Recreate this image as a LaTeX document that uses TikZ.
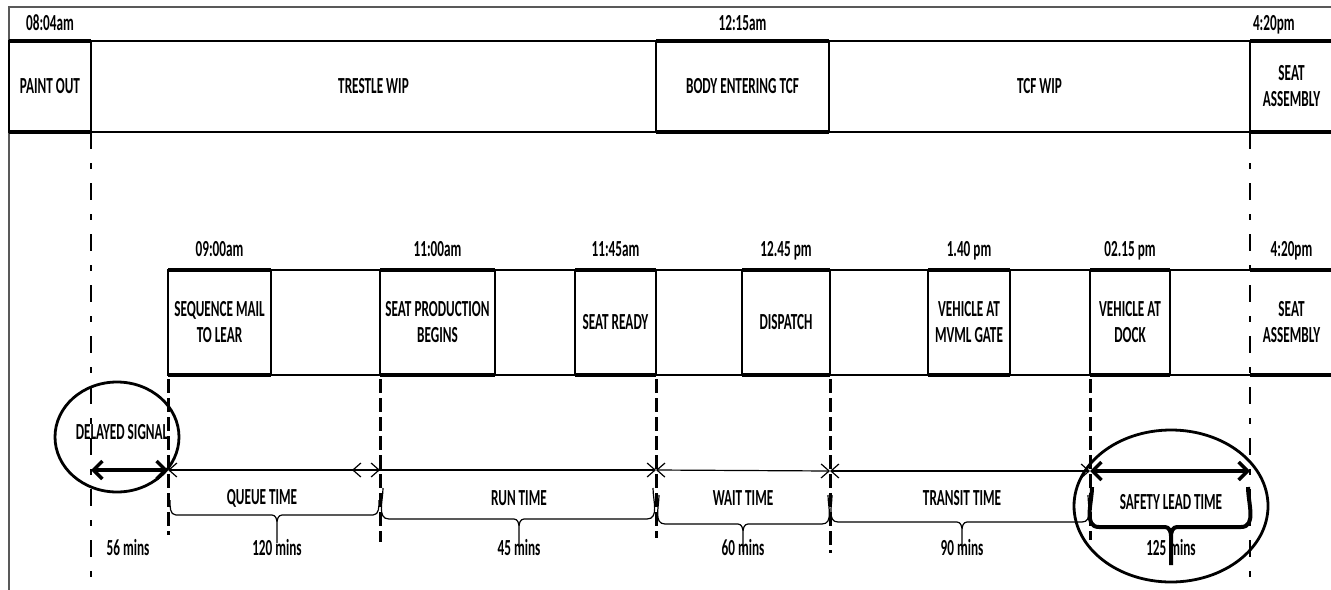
\documentclass[tikz,border=0pt]{standalone}
\usepackage{fontspec}
\setmainfont{Carlito}[FakeStretch=0.575]
\usetikzlibrary{positioning, arrows.meta}

\begin{document}
\begin{tikzpicture}[
    x=0.5pt, y=-0.5pt,
    every node/.style={font=\bfseries\fontsize{11.5}{13}\selectfont, inner sep=0pt, outer sep=0pt},
    cell/.style={draw, line width=1pt, align=center},
    blank/.style={align=center},
    toprow/.style={minimum height=45.5pt},
    botrow/.style={minimum height=52.5pt},
    heavy/.style={line width=1.75pt},
    stamp/.style={text depth=0pt},
    guide/.style={line width=1.5pt, dash pattern=on 7pt off 2.5pt},
    tickline/.style={line width=1.4pt, dash pattern=on 8.5pt off 7pt on 3pt off 7pt},
    spanarrow/.style={line width=0.6pt, {Straight Barb[length=4pt, width=7pt]}-{Straight Barb[length=4pt, width=7pt]}},
    bigspan/.style={line width=1.75pt, {Straight Barb[length=4.5pt, width=9pt]}-{Straight Barb[length=4.5pt, width=9pt]}},
    ring/.style={line width=1.4pt},
    bracket/.style={line width=0.6pt}
]
    \path[use as bounding box] (0,0) rectangle (1331,589);
    \clip (0,0) rectangle (1331,589);
    \draw[line width=0.8pt, gray!70!black] (9,595) -- (9,7) -- (1340,7);

    % Vehicle row
    \node[cell, toprow, minimum width=41pt, anchor=north west] (paint) at (9,41) {PAINT OUT};
    \node[cell, toprow, minimum width=282.5pt, right=0pt of paint] (trestle) {TRESTLE WIP};
    \node[cell, toprow, minimum width=86.5pt, right=0pt of trestle] (bodytcf) {BODY ENTERING TCF};
    \node[cell, toprow, minimum width=210.5pt, right=0pt of bodytcf] (tcfwip) {TCF WIP};
    \node[cell, toprow, minimum width=41.5pt, right=0pt of tcfwip] (seatA) {SEAT\\ASSEMBLY};
    \foreach \c in {paint, bodytcf, seatA}
        \draw[heavy] (\c.north west) -- (\c.north east) (\c.south west) -- (\c.south east);

    \node[stamp, above=5pt of paint] (t0804) {08:04am};
    \node[stamp, above=5pt of bodytcf] (t1215) {12:15am};
    \node[stamp, above right=5pt and 1.5pt of seatA.north west] (t0420a) {4:20pm};

    % Seat supply row
    \node[cell, botrow, minimum width=51.5pt, anchor=north west] (seqmail) at (168,270) {SEQUENCE MAIL\\TO LEAR};
    \node[blank, botrow, minimum width=54.5pt, right=0pt of seqmail] (g1) {};
    \node[cell, botrow, minimum width=57.5pt, right=0pt of g1] (seatprod) {SEAT PRODUCTION\\BEGINS};
    \node[blank, botrow, minimum width=40pt, right=0pt of seatprod] (g2) {};
    \node[cell, botrow, minimum width=40.5pt, right=0pt of g2] (seatready) {SEAT READY};
    \node[blank, botrow, minimum width=43pt, right=0pt of seatready] (g3) {};
    \node[cell, botrow, minimum width=44pt, right=0pt of g3] (dispatch) {DISPATCH};
    \node[blank, botrow, minimum width=49pt, right=0pt of dispatch] (g4) {};
    \node[cell, botrow, minimum width=41pt, right=0pt of g4] (mvml) {VEHICLE AT\\MVML GATE};
    \node[blank, botrow, minimum width=40pt, right=0pt of mvml] (g5) {};
    \node[cell, botrow, minimum width=40pt, right=0pt of g5] (dock) {VEHICLE AT\\DOCK};
    \node[blank, botrow, minimum width=40pt, right=0pt of dock] (g6) {};
    \node[blank, botrow, minimum width=41.5pt, right=0pt of g6] (seatB) {SEAT\\ASSEMBLY};
    \draw[line width=1pt] (seqmail.north west) -- (seatB.north east) (seqmail.south west) -- (seatB.south east);
    \foreach \c in {seqmail, seatprod, seatready, dispatch, mvml, dock, seatB}
        \draw[heavy] (\c.north west) -- (\c.north east) (\c.south west) -- (\c.south east);

    \node[stamp, above=7pt of seqmail] (t0900) {09:00am};
    \node[stamp, above=7pt of seatprod] (t1100) {11:00am};
    \node[stamp, above=7pt of seatready] (t1145) {11:45am};
    \node[stamp, above=7pt of dispatch] (t1245) {12.45 pm};
    \node[stamp, above=7pt of mvml] (t0140) {1.40 pm};
    \node[stamp, above=7pt of dock] (t0215) {02.15 pm};
    \node[stamp, above=7pt of seatB] (t0420b) {4:20pm};

    % Guide lines
    \draw[tickline] (paint.south east) -- (paint.south east |- 0,595);
    \draw[tickline] (seatA.south west) -- (seatA.south west |- 0,595);
    \foreach \c/\e in {seqmail.south west/535, seatprod.south west/542, seatready.south east/538, dispatch.south east/553, dock.south west/540}
        \draw[guide] ([yshift=-2pt]\c) -- (\c |- 0,\e);

    % Time spans
    \coordinate (c0) at (paint.south east |- 0,470);
    \coordinate (c1) at (seqmail.south west |- 0,470);
    \coordinate (runstart) at (352,470);
    \coordinate (c2) at (seatprod.south west |- 0,470);
    \coordinate (c3) at (seatready.south east |- 0,470);
    \coordinate (c4) at (dispatch.south east |- 0,471);
    \coordinate (c5) at (dock.south west |- 0,471);
    \coordinate (c6) at (seatB.south west |- 0,471);

    \draw[bigspan] (c0) -- (c1);
    \draw[spanarrow] (c1) -- (c2);
    \draw[spanarrow] (runstart) -- (c3);
    \draw[spanarrow] (c3) -- (c4);
    \draw[spanarrow] (c4) -- (c5);
    \draw[bigspan] (c5) -- (c6);

    \draw[ring] (117,437) ellipse [x radius=31pt, y radius=27.5pt];
    \node (delayed) at (122,432) {DELAYED SIGNAL};
    \node (delay-mins) at (128,548) {56 mins};

    \foreach \a/\b/\m/\ye/\yb/\lx/\txt/\mins/\nm in {
        170/379/277/500/515/262/QUEUE TIME/120 mins/queue,
        383/653/519/488/519/519/RUN TIME/45 mins/run,
        659/828/743/495/524/743/WAIT TIME/60 mins/wait,
        832/1088/962/495/522/962/TRANSIT TIME/90 mins/transit}
    {
        \draw[bracket] (\a,\ye) to[out=-90,in=180] ({\a+6},\yb) -- ({\m-5},\yb)
            to[out=0,in=90] (\m,{\yb+8}) -- (\m,{\yb+28}) -- (\m,{\yb+8})
            to[out=90,in=180] ({\m+5},\yb) -- ({\b-6},\yb)
            to[out=0,in=-90] (\b,\ye);
        \node (\nm) at (\lx,498) {\txt};
        \node (\nm-mins) at (\m,548) {\mins};
    }

    % Safety lead
    \draw[ring] (1171,506) ellipse [x radius=48.5pt, y radius=38pt];
    \draw[line width=2pt] (1092,487) to[out=-90,in=180] (1099,527) -- (1165,527)
        to[out=0,in=90] (1171,536) -- (1171,565) -- (1171,536)
        to[out=90,in=180] (1177,527) -- (1241,527)
        to[out=0,in=-90] (1248,487);
    \node (safety) at (1171,502) {SAFETY LEAD TIME};
    \node (safety-mins) at (1171,548) {125 mins};

\end{tikzpicture}
\end{document}
